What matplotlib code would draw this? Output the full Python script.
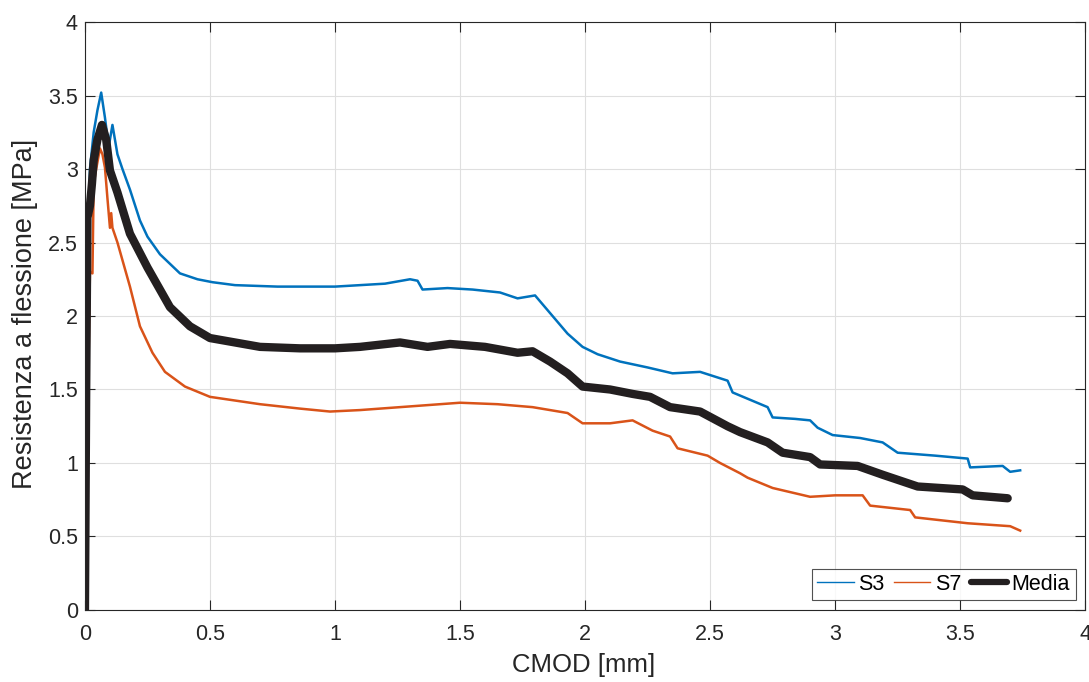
import matplotlib.pyplot as plt

# Prova di flessione: resistenza vs CMOD
cmod_s3 = [0.0, 0.008, 0.02, 0.035, 0.05, 0.065, 0.08, 0.095, 0.11, 0.13, 0.15,
           0.18, 0.22, 0.25, 0.3, 0.38, 0.45, 0.51, 0.6, 0.77, 0.86, 1.0, 1.1,
           1.2, 1.3, 1.33, 1.35, 1.45, 1.55, 1.66, 1.73, 1.8, 1.87, 1.93, 1.99,
           2.05, 2.14, 2.25, 2.35, 2.46, 2.57, 2.59, 2.66, 2.73, 2.75, 2.84,
           2.9, 2.93, 2.99, 3.1, 3.19, 3.25, 3.4, 3.53, 3.54, 3.67, 3.7, 3.74]
res_s3 = [0.0, 2.2, 3.0, 3.25, 3.4, 3.52, 3.35, 3.15, 3.3, 3.1, 3.0,
          2.86, 2.65, 2.54, 2.42, 2.29, 2.25, 2.23, 2.21, 2.20, 2.20, 2.20, 2.21,
          2.22, 2.25, 2.24, 2.18, 2.19, 2.18, 2.16, 2.12, 2.14, 2.0, 1.88, 1.79,
          1.74, 1.69, 1.65, 1.61, 1.62, 1.56, 1.48, 1.43, 1.38, 1.31, 1.30,
          1.29, 1.24, 1.19, 1.17, 1.14, 1.07, 1.05, 1.03, 0.97, 0.98, 0.94, 0.95]

cmod_s7 = [0.0, 0.01, 0.02, 0.03, 0.035, 0.045, 0.06, 0.07, 0.08, 0.09, 0.1,
           0.105, 0.11, 0.13, 0.18, 0.22, 0.27, 0.32, 0.4, 0.5, 0.7, 0.86, 0.98,
           1.1, 1.26, 1.5, 1.65, 1.79, 1.93, 1.99, 2.1, 2.19, 2.27, 2.34, 2.37,
           2.49, 2.54, 2.62, 2.65, 2.75, 2.9, 3.0, 3.11, 3.14, 3.3, 3.32, 3.53,
           3.7, 3.74]
res_s7 = [0.0, 1.2, 2.3, 2.29, 2.9, 3.0, 3.14, 3.1, 3.01, 2.8, 2.6,
          2.7, 2.6, 2.5, 2.2, 1.93, 1.75, 1.62, 1.52, 1.45, 1.40, 1.37, 1.35,
          1.36, 1.38, 1.41, 1.40, 1.38, 1.34, 1.27, 1.27, 1.29, 1.22, 1.18, 1.10,
          1.05, 1.00, 0.93, 0.90, 0.83, 0.77, 0.78, 0.78, 0.71, 0.68, 0.63, 0.59,
          0.57, 0.54]

cmod_media = [0.0, 0.005, 0.01, 0.02, 0.028, 0.035, 0.05, 0.068, 0.085, 0.1,
              0.13, 0.18, 0.25, 0.34, 0.42, 0.5, 0.6, 0.7, 0.86, 1.0, 1.1,
              1.26, 1.37, 1.46, 1.6, 1.73, 1.79, 1.86, 1.93, 1.99, 2.1, 2.19,
              2.26, 2.34, 2.46, 2.57, 2.62, 2.73, 2.79, 2.9, 2.94, 3.09, 3.19,
              3.33, 3.51, 3.55, 3.69]
res_media = [0.0, 1.5, 2.67, 2.75, 2.9, 3.06, 3.2, 3.30, 3.2, 2.99,
             2.84, 2.56, 2.33, 2.06, 1.93, 1.85, 1.82, 1.79, 1.78, 1.78, 1.79,
             1.82, 1.79, 1.81, 1.79, 1.75, 1.76, 1.69, 1.61, 1.52, 1.50, 1.47,
             1.45, 1.38, 1.35, 1.25, 1.21, 1.14, 1.07, 1.04, 0.99, 0.98, 0.92,
             0.84, 0.82, 0.78, 0.76]

tick_vals = [0, 0.5, 1, 1.5, 2, 2.5, 3, 3.5, 4]
tick_text = ['0', '0.5', '1', '1.5', '2', '2.5', '3', '3.5', '4']

plt.rcParams['font.family'] = ['Liberation Sans', 'DejaVu Sans']
txt_col = '#262626'

fig = plt.figure(figsize=(10.89, 6.82), dpi=100)
ax = fig.add_axes([0.078, 0.1056, 0.9185, 0.8621])

ax.plot(cmod_s3, res_s3, color='#0072BD', lw=1.8, label='S3')
ax.plot(cmod_s7, res_s7, color='#D95319', lw=1.8, label='S7')
ax.plot(cmod_media, res_media, color='#231F20', lw=6, label='Media',
        solid_capstyle='round', solid_joinstyle='round')

ax.set_xlim(0, 4)
ax.set_ylim(0, 4)
ax.set_xticks(tick_vals)
ax.set_yticks(tick_vals)
ax.set_xticklabels(tick_text)
ax.set_yticklabels(tick_text)

ax.grid(True, color='#DFDFDF', lw=0.8)
ax.set_axisbelow(True)
ax.tick_params(direction='in', length=7, width=0.8, colors=txt_col,
               labelsize=15.5, top=True, right=True)
ax.tick_params(axis='x', pad=10)
ax.tick_params(axis='y', pad=5)
for sp in ax.spines.values():
    sp.set_color(txt_col)
    sp.set_linewidth(0.8)

ax.set_xlabel('CMOD [mm]', fontsize=18.5, color=txt_col)
ax.set_ylabel('Resistenza a flessione [MPa]', fontsize=19.5, color=txt_col)
ax.xaxis.set_label_coords(0.499, -0.073)
ax.yaxis.set_label_coords(-0.047, 0.504)

leg = ax.legend(loc='lower right', ncol=3, fontsize=15.5, frameon=True,
                fancybox=False, handlelength=1.7, handletextpad=0.2,
                columnspacing=0.45, borderpad=0.25, borderaxespad=0.45)
leg.get_frame().set_edgecolor(txt_col)
leg.get_frame().set_linewidth(0.8)
for h, w in zip(leg.get_lines(), [1.0, 1.0, 4.5]):
    h.set_linewidth(w)

fig.savefig('out.png', dpi=100)
